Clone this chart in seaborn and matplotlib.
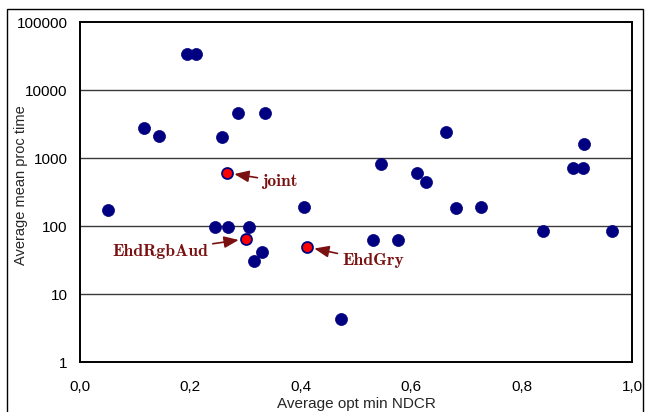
import matplotlib
matplotlib.use("Agg")
import matplotlib.pyplot as plt
import matplotlib.ticker as mticker
from matplotlib.patches import Rectangle
import numpy as np
import pandas as pd
import seaborn as sns

# Average opt min NDCR vs average mean processing time per system
ndcr = [0.051, 0.116, 0.144, 0.194, 0.211, 0.258, 0.287, 0.335,
        0.244, 0.269, 0.307, 0.330, 0.316, 0.405, 0.473, 0.530,
        0.576, 0.545, 0.611, 0.627, 0.663, 0.682, 0.727, 0.838,
        0.894, 0.911, 0.913, 0.964]
proc_time = [172, 2760, 2110, 33800, 33800, 2050, 4590, 4590,
             97, 97, 97, 41, 30.6, 190, 4.3, 62,
             62, 816, 600, 444, 2410, 184, 188, 84,
             713, 713, 1607, 84]

# Highlighted systems
hl_names = ["joint", "EhdRgbAud", "EhdGry"]
hl_ndcr = [0.267, 0.300, 0.412]
hl_time = [603, 64.5, 49]

x_ticks = [0.0, 0.2, 0.4, 0.6, 0.8, 1.0]
y_ticks = [1, 10, 100, 1000, 10000, 100000]

sns.set_style("white")
plt.rcParams["font.family"] = ["Liberation Sans", "DejaVu Sans"]

fig = plt.figure(figsize=(6.46, 4.12), dpi=100)
ax = fig.add_axes([80 / 646, 50 / 412, 552 / 646, 340 / 412])

df = pd.DataFrame({"ndcr": ndcr, "time": proc_time})
hl = pd.DataFrame({"ndcr": hl_ndcr, "time": hl_time, "name": hl_names})

navy = "#000080"
dark_red = "#7a1010"

sns.scatterplot(data=df, x="ndcr", y="time", ax=ax, s=75, color=navy,
                edgecolor=navy, linewidth=0.5, zorder=3)
sns.scatterplot(data=hl, x="ndcr", y="time", ax=ax, s=62, color="#ff0000",
                edgecolor=navy, linewidth=1.3, zorder=4)

ax.set_yscale("log")
ax.set_xlim(0, 1)
ax.set_ylim(1, 100000)
ax.xaxis.set_major_locator(mticker.FixedLocator(x_ticks))
ax.xaxis.set_major_formatter(mticker.FuncFormatter(lambda v, p: f"{v:.1f}".replace(".", ",")))
ax.yaxis.set_major_locator(mticker.FixedLocator(y_ticks))
ax.yaxis.set_major_formatter(mticker.FuncFormatter(lambda v, p: f"{int(round(v))}"))
ax.yaxis.set_minor_locator(mticker.NullLocator())

ax.tick_params(axis="both", which="major", direction="out", length=5, width=1,
               color="black", labelsize=11, labelcolor="black", pad=4)
ax.tick_params(axis="x", pad=8)

for v in y_ticks[1:-1]:
    ax.axhline(v, color="#3a3a3a", linewidth=1.0, zorder=1)

for side in ["left", "bottom", "right", "top"]:
    ax.spines[side].set_visible(True)
    ax.spines[side].set_color("black")
    ax.spines[side].set_linewidth(1.4)

ax.set_xlabel("Average opt min NDCR", fontsize=11, labelpad=2)
ax.set_ylabel("Average mean proc time", fontsize=10.5)
ax.yaxis.set_label_coords(-0.095, 0.52)

offsets = {"joint": ((25, -6), "left"),
           "EhdRgbAud": ((-27, -9), "right"),
           "EhdGry": ((25, -10), "left")}
for name, xv, yv in zip(hl_names, hl_ndcr, hl_time):
    (dx, dy), ha = offsets[name]
    ax.annotate(name, xy=(xv, yv), xytext=(dx, dy), textcoords="offset points",
                ha=ha, va="center", fontsize=12.6, fontfamily="cmb10",
                color=dark_red,
                arrowprops=dict(arrowstyle="-|>,head_length=0.7,head_width=0.28",
                                color=dark_red, lw=1.2, shrinkA=1, shrinkB=5),
                zorder=5)

# frame around the chart
fig.add_artist(Rectangle((7 / 646, -0.05), 636 / 646, (412 - 8.5) / 412 + 0.05,
                         transform=fig.transFigure, fill=False,
                         edgecolor="black", linewidth=1.0, clip_on=False))

fig.savefig("out.png", dpi=100)
